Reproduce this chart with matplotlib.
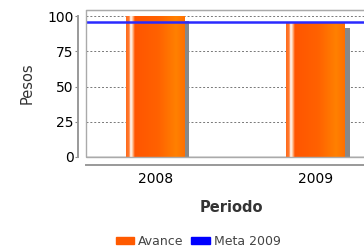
import numpy as np
import matplotlib
matplotlib.use("Agg")
from matplotlib import pyplot as plt
from matplotlib.colors import LinearSegmentedColormap
from matplotlib.patches import Rectangle, Patch

# data
periodos = ["2008", "2009"]
avance = [100, 95]
meta_2009 = 96
y_ticks = [0, 25, 50, 75, 100]

fig = plt.figure(figsize=(3.64, 2.49), dpi=100)
ax = fig.add_axes([86/364, 1 - 157/249, (364 - 86)/364, (157 - 10)/249])

x = np.arange(len(periodos))
width = 0.365
ax.set_xlim(-0.43, 1.30)
ax.set_ylim(0, 104.5)

# dashed grid
for t in y_ticks[1:]:
    ax.axhline(t, color="#777777", lw=0.7, ls=(0, (2, 2)), zorder=1)
ax.axhline(0, color="#555555", lw=1.0, zorder=1)

# bar gradient like the JFreeChart look
grad = LinearSegmentedColormap.from_list("bar", [
    (0.0, "#ff6a1a"), (0.05, "#ff7a30"), (0.08, "#ffffff"), (0.11, "#ffc8a0"),
    (0.15, "#ff5500"), (0.55, "#ff6200"), (0.85, "#ff8000"), (1.0, "#ff7000")])
gimg = np.linspace(0, 1, 256).reshape(1, -1)

bars = ax.bar(x, avance, width=width, color="none", edgecolor="none", zorder=3)
for b in bars:
    x0, h = b.get_x(), b.get_height()
    # shadow
    ax.add_patch(Rectangle((x0 + 0.031, 0), width, h - 3.5, color="#888888", lw=0, zorder=2))
    im = ax.imshow(gimg, cmap=grad, aspect="auto", extent=(x0, x0 + width, 0, h), zorder=3)
    im.set_clip_path(b)

ax.axhline(meta_2009, color="#2a2aff", lw=1.8, zorder=4)

ax.set_xticks(x)
ax.set_xticklabels(periodos, fontsize=7.5, color="#555555")
ax.set_yticks(y_ticks)
ax.set_yticklabels([str(t) for t in y_ticks], fontsize=7.5, color="#555555")
ax.tick_params(axis="x", length=0, pad=5)
ax.tick_params(axis="y", length=2, color="#888888", pad=1)

for s in ["left", "bottom"]:
    ax.spines[s].set_position(("outward", 6))
    ax.spines[s].set_color("#999999")
    ax.spines[s].set_linewidth(1.4)
ax.spines["left"].set_bounds(0, 100)
ax.spines["top"].set_color("#999999")
ax.spines["right"].set_visible(False)
ax.add_patch(Rectangle((0, 0), 1.2, 1, transform=ax.transAxes, fill=False,
                       ec="#aaaaaa", lw=1.0, zorder=5, clip_on=False))

ax.set_ylabel("Pesos", fontsize=10.5, color="#333333", labelpad=9)
fig.text(231/364, 1 - 208/249, "Periodo", fontsize=10.5, fontweight="bold",
         color="#333333", ha="center", va="center")

handles = [Patch(color="#ff5a00", label="Avance"), Patch(color="#0000ff", label="Meta 2009")]
fig.legend(handles=handles, loc="center", bbox_to_anchor=(198/364, 1 - 241/249),
           ncol=2, frameon=False, fontsize=9, handlelength=1.5, handleheight=0.5,
           handletextpad=0.3, columnspacing=0.6, labelcolor="#444444")

fig.savefig("out.png", dpi=100)
